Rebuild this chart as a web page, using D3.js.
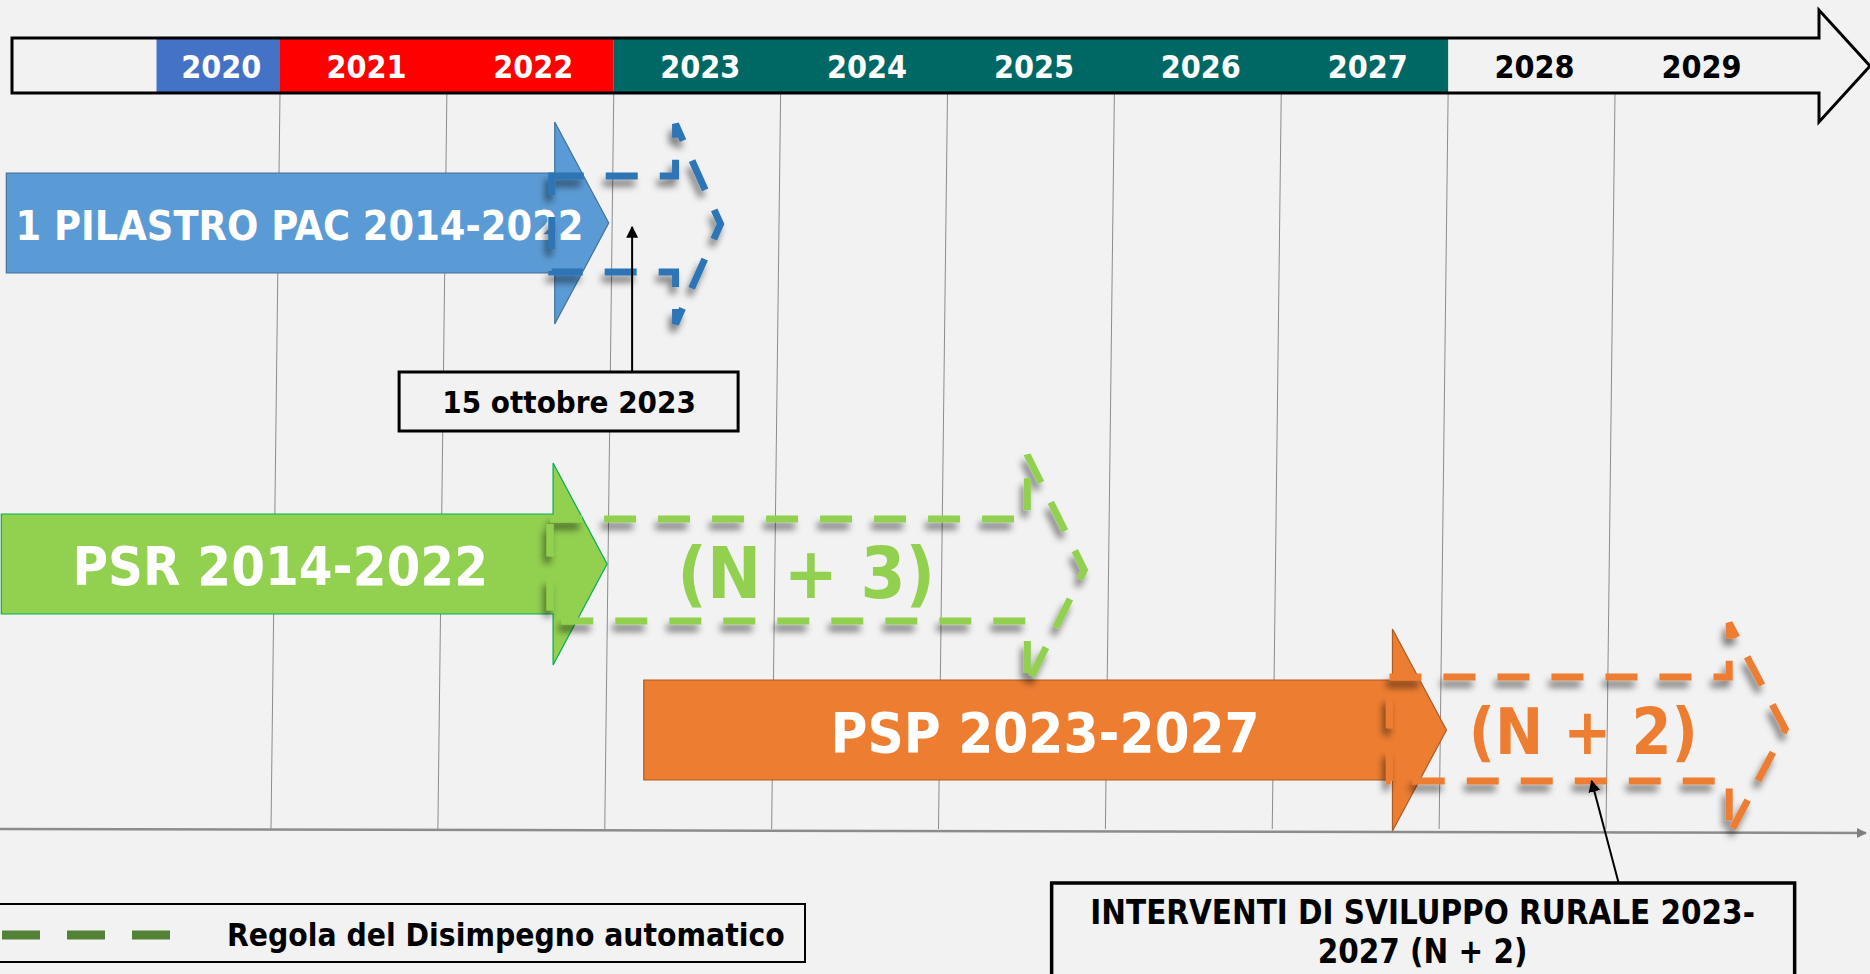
<!DOCTYPE html>
<html lang="it">
<head>
<meta charset="UTF-8" />
<title>Disimpegno automatico</title>
<script src="https://d3js.org/d3.v7.min.js"></script>
<style>
  html, body { margin: 0; padding: 0; background: #f2f2f2; overflow: hidden; }
  svg { display: block; }
  text {
    font-family: "DejaVu Sans", sans-serif;
    font-weight: bold;
    font-stretch: condensed;
  }
</style>
</head>
<body>
<svg width="1870" height="974"></svg>
<script>
// --- dati ---
const years = [2020, 2021, 2022, 2023, 2024, 2025, 2026, 2027, 2028, 2029];
const phaseStart = [2020.26, 2021, 2023];
const phaseEnd = [2021, 2023, 2028];

const programs = ["1 PILASTRO PAC 2014-2022", "PSR 2014-2022", "PSP 2023-2027"];
const progStart = [2019.36, 2019.33, 2023.18];
const progEnd = [2022.97, 2022.96, 2027.99];     // punta della freccia
const extEnd = [2023.64, 2025.82, 2030.02];      // fine disimpegno (freccia tratteggiata)
const extLabels = ["", "(N + 3)", "(N + 2)"];

const notes = ["15 ottobre 2023", "INTERVENTI DI SVILUPPO RURALE 2023-|2027 (N + 2)"];
const noteAt = [2023.11, 2028.86];
const legendLabel = "Regola del Disimpegno automatico";

// --- stile / layout ---
const phaseColor = ["#4472c4", "#ff0000", "#006864"];
const solidFill = ["#5b9bd5", "#92d050", "#ed7d31"];
const solidStroke = ["#41719c", "#00b050", "#ae5a21"];
const dashColor = ["#2e75b6", "#92d050", "#ed7d31"];
const rowY = [223, 564, 730];
const labelSize = [41, 54, 56];
const labelDx = [-8, -24, 0];
const extSize = [0, 72, 64];
const extDx = [0, -11, -4];
const dashHead = [45, 57, 56], dashBody = [48, 51, 52], dashHalf = [100, 115, 106], dashDy = [1, 6, -1];

const svg = d3.select("svg");
const x = d3.scaleLinear().domain([2021, 2029]).range([280, 1615]);

const defs = svg.append("defs");
const f = defs.append("filter").attr("id", "shadow")
  .attr("x", "-20%").attr("y", "-20%").attr("width", "140%").attr("height", "140%");
f.append("feGaussianBlur").attr("in", "SourceAlpha").attr("stdDeviation", 3.5);
f.append("feOffset").attr("dx", -3).attr("dy", 7).attr("result", "off");
f.append("feComponentTransfer").call(c => c.append("feFuncA").attr("type", "linear").attr("slope", 0.5));
const m = f.append("feMerge");
m.append("feMergeNode");
m.append("feMergeNode").attr("in", "SourceGraphic");

defs.append("marker").attr("id", "tip")
  .attr("viewBox", "0 0 10 10").attr("refX", 9).attr("refY", 5)
  .attr("markerWidth", 6).attr("markerHeight", 6).attr("orient", "auto-start-reverse")
  .append("path").attr("d", "M0,0 L10,5 L0,10 Z").attr("fill", "#000");
defs.append("marker").attr("id", "axtip")
  .attr("viewBox", "0 0 10 10").attr("refX", 9).attr("refY", 5)
  .attr("markerWidth", 4).attr("markerHeight", 4).attr("orient", "auto")
  .append("path").attr("d", "M0,0 L10,5 L0,10 Z").attr("fill", "#808080");

// --- griglia verticale e asse ---
const gridTop = 93, axisY = 829;
svg.append("g").selectAll("line").data(years.slice(1))
  .join("line")
  .attr("x1", d => x(d)).attr("y1", gridTop)
  .attr("x2", d => x(d) - 9).attr("y2", axisY)
  .attr("stroke", "#8c8c8c").attr("stroke-width", 1);

svg.append("line")
  .attr("x1", 0).attr("y1", axisY).attr("x2", 1866).attr("y2", axisY + 4)
  .attr("stroke", "#8c8c8c").attr("stroke-width", 2.5)
  .attr("marker-end", "url(#axtip)");

// --- barra degli anni ---
const barTop = 38, barBot = 93, barRight = 1819, barTip = 1870;
const barPath = `M12,${barTop} L${barRight},${barTop} L${barRight},10 L${barTip},66 L${barRight},122 L${barRight},${barBot} L12,${barBot} Z`;
svg.append("path").attr("d", barPath).attr("fill", "#f2f2f2");
svg.append("g").selectAll("rect").data(phaseStart)
  .join("rect")
  .attr("x", d => x(d)).attr("y", barTop - 1)
  .attr("width", (d, i) => x(phaseEnd[i]) - x(d)).attr("height", barBot - barTop)
  .attr("fill", (d, i) => phaseColor[i]);
svg.append("path").attr("d", barPath).attr("fill", "none")
  .attr("stroke", "#000").attr("stroke-width", 3).attr("stroke-linejoin", "miter");

svg.append("g").selectAll("text").data(years)
  .join("text")
  .attr("x", d => (x(Math.max(d, phaseStart[0])) + x(d + 1)) / 2 + 3)
  .attr("y", 66).attr("dy", "0.36em")
  .attr("text-anchor", "middle").attr("font-size", 32)
  .attr("fill", d => d < phaseEnd[phaseEnd.length - 1] ? "#fff" : "#000")
  .text(d => d);

// --- frecce dei programmi ---
function arrowPath(x0, xt, cy, head, bh, hh) {
  const xb = xt - head;
  return `M${x0},${cy - bh} L${xb},${cy - bh} L${xb},${cy - hh} L${xt},${cy} L${xb},${cy + hh} L${xb},${cy + bh} L${x0},${cy + bh} Z`;
}

const solidHead = 54;
programs.forEach((p, i) => {
  svg.append("path")
    .attr("d", arrowPath(x(progStart[i]), x(progEnd[i]), rowY[i], solidHead, 50, 101))
    .attr("fill", solidFill[i]).attr("stroke", solidStroke[i]).attr("stroke-width", 1.2);
  svg.append("text")
    .attr("x", (x(progStart[i]) + x(progEnd[i])) / 2 + labelDx[i])
    .attr("y", rowY[i] + 2).attr("dy", "0.36em")
    .attr("text-anchor", "middle").attr("font-size", labelSize[i])
    .attr("fill", "#fff").text(p);
});

programs.forEach((p, i) => {
  const left = x(progEnd[i]) - solidHead - 3;
  const cy = rowY[i] + dashDy[i];
  svg.append("path")
    .attr("d", arrowPath(left, x(extEnd[i]), cy, dashHead[i], dashBody[i], dashHalf[i]))
    .attr("fill", "none").attr("stroke", dashColor[i]).attr("stroke-width", 7)
    .attr("stroke-dasharray", "32 22").attr("filter", "url(#shadow)");
  if (extLabels[i]) {
    svg.append("text")
      .attr("x", (left + x(extEnd[i])) / 2 + extDx[i])
      .attr("y", cy + 2).attr("dy", "0.36em")
      .attr("text-anchor", "middle").attr("font-size", extSize[i])
      .attr("fill", dashColor[i]).text(extLabels[i]);
  }
});

// --- note ---
// 15 ottobre 2023
const n1x = x(noteAt[0]);
svg.append("line")
  .attr("x1", n1x).attr("y1", 372).attr("x2", n1x).attr("y2", 227)
  .attr("stroke", "#000").attr("stroke-width", 2).attr("marker-end", "url(#tip)");
svg.append("rect")
  .attr("x", n1x - 233).attr("y", 372).attr("width", 339).attr("height", 59)
  .attr("fill", "#f2f2f2").attr("stroke", "#000").attr("stroke-width", 3);
svg.append("text")
  .attr("x", n1x - 63).attr("y", 402).attr("dy", "0.36em")
  .attr("text-anchor", "middle").attr("font-size", 31).attr("fill", "#000")
  .text(notes[0]);

// interventi sviluppo rurale
const n2x = x(noteAt[1]);
svg.append("line")
  .attr("x1", n2x + 27).attr("y1", 883).attr("x2", n2x).attr("y2", 781)
  .attr("stroke", "#000").attr("stroke-width", 2).attr("marker-end", "url(#tip)");
svg.append("rect")
  .attr("x", n2x - 540).attr("y", 883).attr("width", 743).attr("height", 120)
  .attr("fill", "#f2f2f2").attr("stroke", "#000").attr("stroke-width", 3.5);
svg.append("text")
  .attr("text-anchor", "middle").attr("font-size", 32.8).attr("fill", "#000")
  .selectAll("tspan").data(notes[1].split("|"))
  .join("tspan")
  .attr("x", n2x - 169).attr("y", (d, i) => 912 + i * 39).attr("dy", "0.36em")
  .text(d => d);

// --- legenda ---
svg.append("rect")
  .attr("x", -2).attr("y", 904).attr("width", 807).attr("height", 58)
  .attr("fill", "#f2f2f2").attr("stroke", "#000").attr("stroke-width", 2);
svg.append("line")
  .attr("x1", 2).attr("y1", 935).attr("x2", 172).attr("y2", 935)
  .attr("stroke", "#538135").attr("stroke-width", 9).attr("stroke-dasharray", "38 27");
svg.append("text")
  .attr("x", 227).attr("y", 935).attr("dy", "0.36em")
  .attr("font-size", 31.5).attr("fill", "#000")
  .text(legendLabel);
</script>
</body>
</html>
